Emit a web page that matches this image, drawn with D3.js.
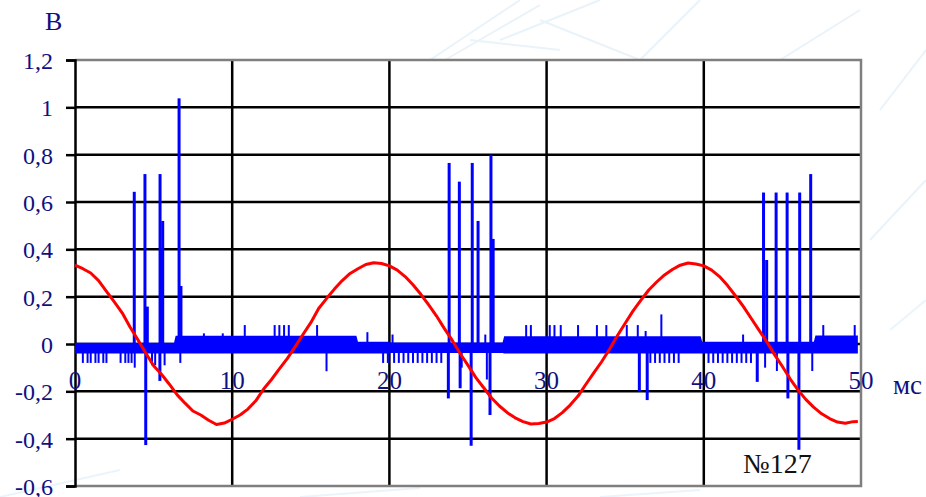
<!DOCTYPE html>
<html>
<head>
<meta charset="utf-8">
<script src="https://cdn.jsdelivr.net/npm/d3@7/dist/d3.min.js"></script>
<style>
  html, body { margin: 0; padding: 0; background: #ffffff; }
  svg { display: block; }
</style>
</head>
<body>
<svg id="chart" width="926" height="497"></svg>
<script>
// ---------------- DATA ----------------
const xTicks = [0, 10, 20, 30, 40, 50];
const xTickLabels = ["0", "10", "20", "30", "40", "50"];
const yTicks = [-0.6, -0.4, -0.2, 0, 0.2, 0.4, 0.6, 0.8, 1, 1.2];
const yTickLabels = ["-0,6", "-0,4", "-0,2", "0", "0,2", "0,4", "0,6", "0,8", "1", "1,2"];

// red trace (voltage), sampled every 0.5 ms from 0 to 49.5 ms, plus last point
const redTimes = d3.range(0, 50, 0.5).concat([49.8]);
const redValues = [
  0.333, 0.318, 0.300, 0.268, 0.222, 0.178, 0.132, 0.072, 0.018, -0.038,
  -0.092, -0.128, -0.170, -0.215, -0.250, -0.283, -0.300, -0.322, -0.340, -0.334,
  -0.318, -0.300, -0.275, -0.240, -0.190, -0.150, -0.105, -0.062, -0.012, 0.040,
  0.090, 0.150, 0.192, 0.232, 0.268, 0.298, 0.318, 0.336, 0.343, 0.340,
  0.330, 0.312, 0.285, 0.250, 0.210, 0.165, 0.118, 0.065, 0.015, -0.040,
  -0.090, -0.142, -0.185, -0.228, -0.262, -0.290, -0.312, -0.328, -0.338, -0.336,
  -0.330, -0.315, -0.290, -0.258, -0.220, -0.170, -0.122, -0.075, -0.022, 0.035,
  0.088, 0.140, 0.185, 0.228, 0.262, 0.292, 0.315, 0.333, 0.342, 0.338,
  0.330, 0.312, 0.285, 0.248, 0.205, 0.160, 0.110, 0.060, 0.010, -0.045,
  -0.095, -0.148, -0.195, -0.235, -0.268, -0.295, -0.315, -0.330, -0.335, -0.328,
  -0.327
];

// blue trace: dense noise band envelope
const bandTimes  = [0, 6.3, 6.4, 17.9, 18.0, 20.0, 20.1, 27.2, 27.3, 39.8, 39.9, 47.0, 47.1, 49.8];
const bandTop    = [0.005, 0.005, 0.035, 0.035, 0.010, 0.010, 0.006, 0.006, 0.033, 0.033, 0.010, 0.010, 0.036, 0.036];
const bandBottom = [-0.040, -0.040, -0.040, -0.040, -0.040, -0.040, -0.038, -0.038, -0.040, -0.040, -0.040, -0.040, -0.040, -0.040];

// blue trace: spikes (time ms, peak value V)
const spikeTimes = [
  0.5, 0.8, 1.0, 1.3, 1.5, 1.8, 2.0, 2.9, 3.2, 3.4, 3.6,
  3.77, 3.8, 4.45, 4.5, 4.6, 4.9, 5.1, 5.41, 5.4, 5.5, 5.58, 5.7, 6.62, 6.74, 6.7,
  8.2, 9.4, 10.8, 12.7, 13.0, 13.3, 13.6, 15.4, 16.0, 18.6,
  19.6, 19.9, 20.2, 20.3, 20.6, 20.9, 21.2, 21.5, 21.8, 22.1, 22.4, 22.7, 23.0, 23.3,
  23.8, 23.75, 24.45, 24.5, 24.6, 25.27, 25.2, 25.64, 26.1, 26.2, 26.46, 26.4, 26.6,
  28.7, 29.0, 30.2, 30.5, 30.9, 32.0, 33.2, 33.8,
  35.1, 35.8, 35.9, 36.3, 36.4, 36.6, 36.9, 37.2, 37.3, 37.5, 37.8, 38.1, 38.4,
  40.3, 40.6, 40.9, 41.2, 41.5, 41.8, 42.1, 42.4, 42.5, 42.7, 43.0,
  43.4, 43.8, 43.9, 44.0, 44.6, 44.65, 45.3, 45.35, 46.1, 46.05, 46.8, 46.9,
  47.6, 49.6
];
const spikeValues = [
  -0.08, -0.08, -0.08, -0.08, -0.08, -0.08, -0.08, -0.08, -0.08, -0.08, -0.08,
  0.643, -0.10, 0.718, -0.427, 0.158, -0.09, -0.09, 0.718, -0.156, 0.40, 0.52, -0.09, 1.038, 0.245, -0.08,
  0.045, 0.045, 0.08, 0.08, 0.08, 0.08, 0.08, 0.08, -0.115, 0.05,
  -0.08, -0.08, 0.04, -0.08, -0.08, -0.08, -0.08, -0.08, -0.08, -0.08, -0.08, -0.08, -0.08, -0.08,
  0.765, -0.23, 0.686, -0.187, -0.10, 0.765, -0.43, 0.52, 0.04, -0.15, 0.80, -0.30, 0.444,
  0.08, 0.08, 0.08, 0.08, 0.08, 0.08, 0.08, 0.08,
  0.08, 0.08, -0.20, 0.055, -0.237, -0.08, -0.08, -0.08, 0.125, -0.08, -0.08, -0.08, -0.08,
  -0.08, -0.08, -0.08, -0.08, -0.08, -0.08, -0.08, -0.08, 0.04, -0.08, -0.08,
  -0.16, 0.64, -0.10, 0.355, 0.64, -0.114, 0.64, -0.23, 0.64, -0.447, 0.718, -0.114,
  0.08, 0.08
];

// ---------------- CHART ----------------
const svg = d3.select("#chart");
const W = 926, H = 497;
const plot = { left: 75, right: 861, top: 60, bottom: 486 };

const x = d3.scaleLinear().domain([0, 50]).range([plot.left, plot.right]);
const y = d3.scaleLinear().domain([-0.6, 1.2]).range([plot.bottom, plot.top]);

svg.append("rect").attr("width", W).attr("height", H).attr("fill", "#ffffff");

// faint watermark background
const wm = svg.append("g").attr("stroke", "#e2eff8").attr("fill", "none").attr("stroke-width", 2).attr("opacity", 0.7);
[[430, 60, 520, 0], [445, 60, 540, 5], [500, 40, 600, 0], [540, 20, 640, 60], [470, 40, 560, 50],
 [640, 60, 700, 0], [880, 110, 926, 50], [870, 240, 926, 180], [890, 330, 926, 300],
 [780, 60, 860, 10], [0, 497, 120, 470], [300, 497, 420, 488], [600, 497, 700, 490]]
  .forEach(d => wm.append("line").attr("x1", d[0]).attr("y1", d[1]).attr("x2", d[2]).attr("y2", d[3]));

// horizontal grid lines
const grid = svg.append("g");
grid.selectAll("line.h").data(yTicks.filter(v => v > -0.6 && v < 1.2)).join("line")
  .attr("x1", plot.left).attr("x2", plot.right)
  .attr("y1", d => y(d)).attr("y2", d => y(d))
  .attr("stroke", "#000").attr("stroke-width", 2.5);
// vertical grid lines
grid.selectAll("line.v").data(xTicks.filter(v => v > 0 && v < 50)).join("line")
  .attr("y1", plot.top).attr("y2", plot.bottom)
  .attr("x1", d => x(d)).attr("x2", d => x(d))
  .attr("stroke", "#000").attr("stroke-width", 2.5);

// plot frame (gray top/right/bottom)
svg.append("path")
  .attr("d", `M${plot.left},${plot.top}H${plot.right}V${plot.bottom}H${plot.left}`)
  .attr("fill", "none").attr("stroke", "#7f7f7f").attr("stroke-width", 2.5);

// left value axis
const yAxis = d3.axisLeft(y).tickValues(yTicks).tickSize(9).tickFormat((d, i) => yTickLabels[i]);
const gy = svg.append("g").attr("transform", `translate(${plot.left},0)`).call(yAxis);
gy.select(".domain").attr("stroke", "#000").attr("stroke-width", 2.5);
gy.selectAll(".tick line").attr("stroke", "#000").attr("stroke-width", 2.5);
gy.selectAll(".tick text")
  .attr("x", -22).attr("dy", "0.36em")
  .attr("fill", "#101080")
  .attr("font-family", "'Liberation Serif', 'DejaVu Serif', serif")
  .attr("font-size", 24);

// blue trace
const blue = svg.append("g");
const bandData = bandTimes.map((t, i) => ({ t, top: bandTop[i], bot: bandBottom[i] }));
blue.append("path").datum(bandData)
  .attr("d", d3.area().x(d => x(d.t)).y0(d => y(d.bot)).y1(d => y(d.top)))
  .attr("fill", "#0000ff");
const spikes = spikeTimes.map((t, i) => ({ t, v: spikeValues[i] }));
blue.selectAll("line.spike").data(spikes).join("line")
  .attr("x1", d => x(d.t)).attr("x2", d => x(d.t))
  .attr("y1", y(0)).attr("y2", d => y(d.v))
  .attr("stroke", "#0000ff")
  .attr("stroke-width", d => Math.abs(d.v) > 0.15 ? 3 : 2);

// red trace
const redData = redTimes.map((t, i) => ({ t, v: redValues[i] }));
svg.append("path").datum(redData)
  .attr("d", d3.line().x(d => x(d.t)).y(d => y(d.v)))
  .attr("fill", "none").attr("stroke", "#ff0000").attr("stroke-width", 3)
  .attr("stroke-linejoin", "round");

// x tick labels (drawn inside plot, near zero line)
svg.append("g").selectAll("text").data(xTicks).join("text")
  .attr("x", d => x(d)).attr("y", 389)
  .attr("text-anchor", "middle")
  .attr("fill", "#101080")
  .attr("font-family", "'Liberation Serif', 'DejaVu Serif', serif")
  .attr("font-size", 25)
  .text((d, i) => xTickLabels[i]);

// unit labels
svg.append("text").attr("x", 45).attr("y", 30)
  .attr("fill", "#101080").attr("font-family", "'Liberation Serif', serif").attr("font-size", 26)
  .text("В");
svg.append("text").attr("x", 893).attr("y", 394)
  .attr("fill", "#101080").attr("font-family", "'Liberation Serif', serif").attr("font-size", 27)
  .text("мс");
svg.append("text").attr("x", 743).attr("y", 473)
  .attr("fill", "#111111").attr("font-family", "'Liberation Serif', serif").attr("font-size", 28)
  .text("№127");
</script>
</body>
</html>
